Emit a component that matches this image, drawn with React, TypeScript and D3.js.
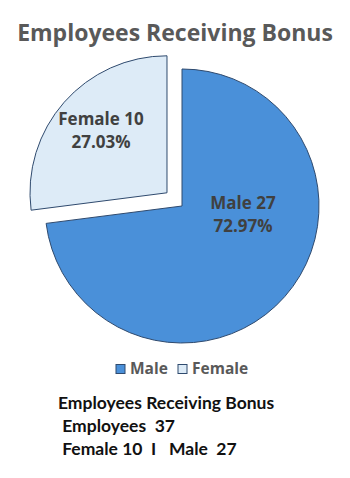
import React from "react";
import * as d3 from "d3";

const categories = ["Male", "Female"];
const values = [27, 10];
const colors = ["#4A90D9", "#DDEBF7"];
const summaryLines = ["Employees Receiving Bonus", " Employees  37", " Female 10  I   Male  27"];

export default function App() {
  const W = 350, H = 478;
  const cx = 182, cy = 206, r = 137;
  const total = d3.sum(values);
  const pie = d3.pie<number>().sort(null).value((d) => d)(values);
  const arc = d3.arc<d3.PieArcDatum<number>>().innerRadius(0).outerRadius(r);
  const explode = [0, 20];
  const labelPos = [
    [61, 3],
    [-81, -81],
  ];
  return (
    <svg width={W} height={H} style={{ position: "absolute", left: 0, top: 0, background: "#fff" }}>
      <text x={175} y={41} textAnchor="middle" fontFamily="Open Sans" fontWeight={700} fontSize={23} fill="#595959">
        Employees Receiving Bonus
      </text>
      {pie.map((p, i) => {
        const mid = (p.startAngle + p.endAngle) / 2;
        const dx = Math.sin(mid) * explode[i];
        const dy = -Math.cos(mid) * explode[i];
        return (
          <g key={i} transform={`translate(${cx + dx},${cy + dy})`}>
            <path d={arc(p) || ""} fill={colors[i]} stroke="#2F4A6E" strokeWidth={1} />
          </g>
        );
      })}
      {pie.map((p, i) => (
        <text key={"l" + i} x={cx + labelPos[i][0]} y={cy + labelPos[i][1]} textAnchor="middle"
          fontFamily="Open Sans" fontWeight={700} fontSize={17} fill="#404040">
          <tspan x={cx + labelPos[i][0]} dy={0}>{`${categories[i]} ${values[i]}`}</tspan>
          <tspan x={cx + labelPos[i][0]} dy={22.5}>{`${((values[i] / total) * 100).toFixed(2)}%`}</tspan>
        </text>
      ))}
      {categories.map((c, i) => {
        const x0 = i === 0 ? 116 : 178;
        return (
          <g key={"lg" + i}>
            <rect x={x0} y={364.5} width={9} height={9} fill={colors[i]} stroke="#2F4A6E" strokeWidth={1} />
            <text x={x0 + 14} y={374} fontFamily="Open Sans" fontWeight={700} fontSize={15.5} fill="#595959">{c}</text>
          </g>
        );
      })}
      {summaryLines.map((s, i) => (
        <text key={"s" + i} x={58} y={409 + i * 23} fontFamily="Lato" fontWeight={700} fontSize={17.5} fill="#111"
          style={{ whiteSpace: "pre" }}>
          {s}
        </text>
      ))}
    </svg>
  );
}
